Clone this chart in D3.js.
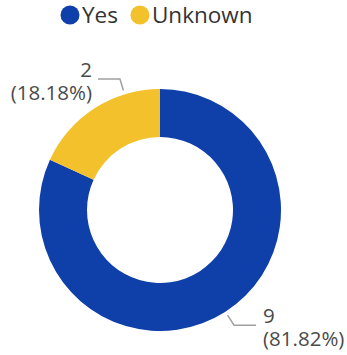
<!DOCTYPE html>
<html>
<head>
<meta charset="utf-8">
<script src="https://cdn.jsdelivr.net/npm/d3@7"></script>
<style>
  body { margin: 0; background: #fff; }
  text { font-family: "Open Sans", sans-serif; }
</style>
</head>
<body>
<div id="wrapper"></div>
<script>
// data
const categories = ["Yes", "Unknown"]
const counts = [9, 2]
const colors = ["#0f3fa8", "#f2c12c"]
// where the leader line leaves the ring (degrees from 12 o'clock, clockwise), null = slice middle
const labelAngles = [null, -17]

const dimensions = {
    width: 347,
    height: 355,
    cx: 160,
    cy: 210,
    outer: 121,
    inner: 73,
}

const svg = d3.select("#wrapper")
    .append("svg")
    .attr("width", dimensions.width)
    .attr("height", dimensions.height)

const total = d3.sum(counts)
const pie = d3.pie().sort(null).value(d => d.value)
const arcs = pie(categories.map((c, i) => ({ name: c, value: counts[i], color: colors[i] })))

const arc = d3.arc().innerRadius(dimensions.inner).outerRadius(dimensions.outer)

const donut = svg.append("g")
    .attr("transform", `translate(${dimensions.cx},${dimensions.cy})`)

donut.selectAll("path")
    .data(arcs)
    .join("path")
    .attr("d", arc)
    .attr("fill", d => d.data.color)

// leader lines + labels
const polar = (r, a) => [r * Math.sin(a), -r * Math.cos(a)]

arcs.forEach((d, i) => {
    const a = labelAngles[i] == null ? (d.startAngle + d.endAngle) / 2 : labelAngles[i] * Math.PI / 180
    const right = Math.sin(a) > 0
    const p0 = polar(dimensions.outer + 4, a)
    const p1 = polar(dimensions.outer + 16, a)
    const p2 = [p1[0] + (right ? 22 : -22), p1[1]]
    donut.append("polyline")
        .attr("points", [p0, p1, p2].map(p => p.join(",")).join(" "))
        .attr("fill", "none")
        .attr("stroke", "#a0a0a0")
        .attr("stroke-width", 1.5)
    const tx = p2[0] + (right ? 7 : -6)
    const lines = [d.data.value, `(${(d.data.value / total * 100).toFixed(2)}%)`]
    lines.forEach((s, j) => {
        donut.append("text")
            .attr("x", tx)
            .attr("y", p2[1] - 2 + j * 23)
            .attr("text-anchor", right ? "start" : "end")
            .attr("fill", "#4a4a4a")
            .style("font-size", "20.5px")
            .text(s)
    })
})

// legend
const legend = svg.append("g").attr("transform", "translate(70,15)")
let x = 0
categories.forEach((c, i) => {
    const item = legend.append("g").attr("transform", `translate(${x},0)`)
    item.append("circle").attr("r", 9.5).attr("fill", colors[i])
    const txt = item.append("text")
        .attr("x", 12)
        .attr("y", 8)
        .attr("fill", "#333")
        .style("font-size", "22.5px")
        .text(c)
    x += 12 + txt.node().getComputedTextLength() + 22
})
</script>
</body>
</html>
